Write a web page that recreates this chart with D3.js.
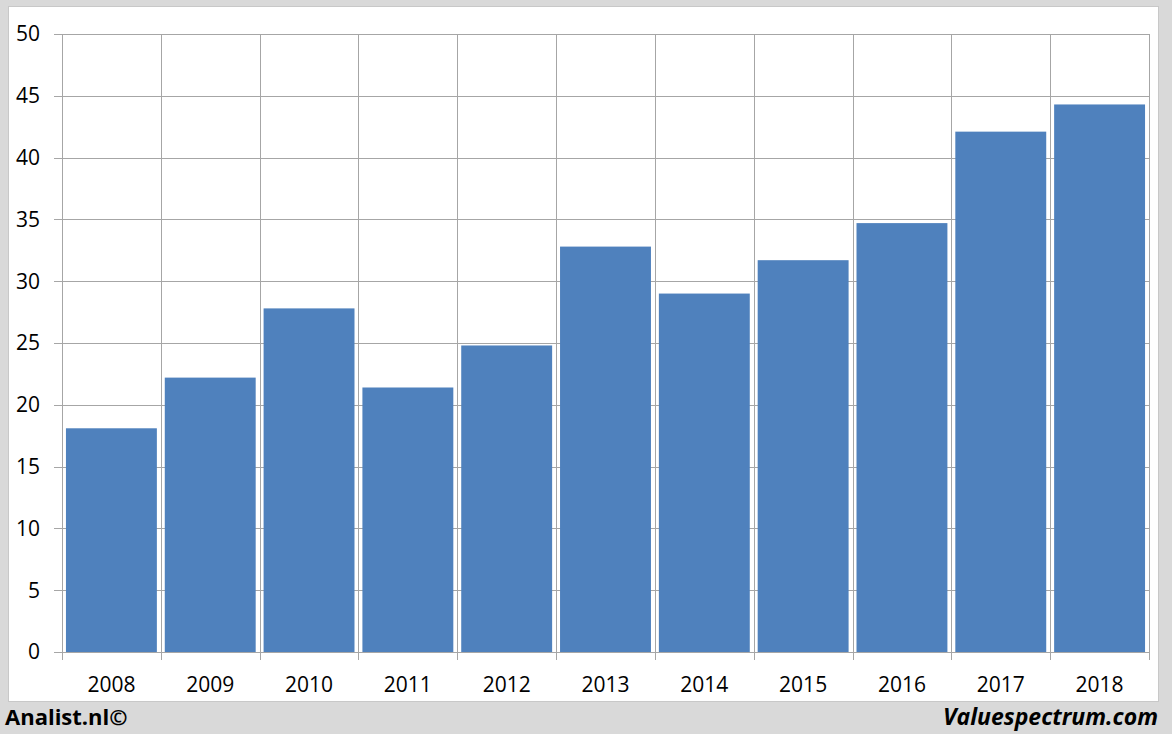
<!DOCTYPE html>
<html><head><meta charset="utf-8">
<script src="https://cdn.jsdelivr.net/npm/d3@7"></script>
<style>body{margin:0;background:#d9d9d9;}svg{display:block;}</style>
</head><body>
<svg id="c" width="1172" height="734"></svg>
<script>
const years = ["2008","2009","2010","2011","2012","2013","2014","2015","2016","2017","2018"];
const values = [18.1,22.2,27.8,21.4,24.8,32.8,29.0,31.7,34.7,42.1,44.3];
const yTicks = [0,5,10,15,20,25,30,35,40,45,50];

const svg = d3.select("#c");
svg.append("rect").attr("x",0).attr("y",0).attr("width",1172).attr("height",734).attr("fill","#d9d9d9");
svg.append("rect").attr("x",8.5).attr("y",6.5).attr("width",1150).attr("height",695).attr("fill","#fff").attr("stroke","#c8c8c8");

const L=62,R=1149,T=34,B=652;
const x = d3.scaleBand().domain(years).range([L,R]).paddingInner(0.08).paddingOuter(0.04);
const y = d3.scaleLinear().domain([0,50]).range([B,T]);
const font = "'Open Sans','Liberation Sans',sans-serif";

const g = svg.append("g");
g.selectAll("line.h").data(yTicks).join("line")
 .attr("x1",L-8).attr("x2",R).attr("y1",d=>Math.round(y(d))+0.5).attr("y2",d=>Math.round(y(d))+0.5)
 .attr("stroke","#a6a6a6").attr("stroke-width",1);
const step = (R-L)/years.length;
const vb = d3.range(years.length+1);
g.selectAll("line.v").data(vb).join("line")
 .attr("x1",d=>Math.round(L+d*step)+0.5).attr("x2",d=>Math.round(L+d*step)+0.5)
 .attr("y1",T).attr("y2",B+8).attr("stroke","#a6a6a6").attr("stroke-width",1);

g.selectAll("rect.bar").data(years).join("rect")
 .attr("x",d=>x(d)).attr("width",x.bandwidth())
 .attr("y",(d,i)=>y(values[i])).attr("height",(d,i)=>B-y(values[i]))
 .attr("fill","#4f81bd");

g.selectAll("text.y").data(yTicks).join("text")
 .attr("x",40).attr("y",d=>y(d)).attr("dy","0.35em").attr("text-anchor","end")
 .attr("font-family",font).attr("font-size",21).attr("fill","#000").text(d=>d);
g.selectAll("text.x").data(years).join("text")
 .attr("x",d=>x(d)+x.bandwidth()/2).attr("y",685).attr("dy","0.35em").attr("text-anchor","middle")
 .attr("font-family",font).attr("font-size",21).attr("fill","#000").text(d=>d);

svg.append("text").attr("x",5).attr("y",725).attr("font-family",font).attr("font-weight","bold")
 .attr("font-size",22).text("Analist.nl©");
svg.append("text").attr("x",1158).attr("y",725).attr("text-anchor","end").attr("font-family",font)
 .attr("font-weight","bold").attr("font-style","italic").attr("font-size",23).text("Valuespectrum.com");
</script>
</body></html>
